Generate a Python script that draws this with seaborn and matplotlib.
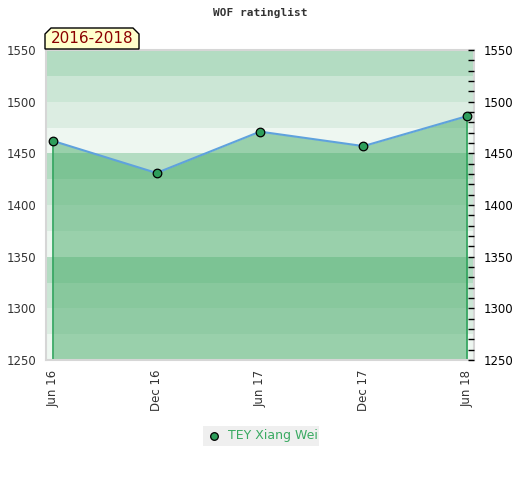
import numpy as np
import pandas as pd
import seaborn as sns
import matplotlib.pyplot as plt
from matplotlib.patches import Polygon
from matplotlib.ticker import MultipleLocator

# data
periods = ['Jun 16', 'Dec 16', 'Jun 17', 'Dec 17', 'Jun 18']
ratings = [1462, 1431, 1471, 1457, 1486]
player = 'TEY Xiang Wei'
period_label = '2016-2018'

y_min, y_max = 1250, 1550
band_colors = ['#eef7f1', '#dcede2', '#cbe6d5', '#b3dcc2']

df = pd.DataFrame({'period': periods, 'rating': ratings})
df['pos'] = np.arange(len(df))

sns.set_style('white')
plt.rcParams['font.family'] = ['DejaVu Sans']

fig = plt.figure(figsize=(5.2, 4.8), dpi=100)
ax = fig.add_axes([46 / 520, 1 - 360 / 480, 428 / 520, 310 / 480])

# striped background
for i, lo in enumerate(range(y_min, y_max, 25)):
    ax.axhspan(lo, lo + 25, color=band_colors[i % 4], lw=0, zorder=0)

ax.fill_between(df['pos'], df['rating'], y_min, color='#46ab67', alpha=0.5, lw=0, zorder=1)
ax.vlines([df['pos'].iloc[0], df['pos'].iloc[-1]], y_min, [df['rating'].iloc[0], df['rating'].iloc[-1]],
          color='#2fa35c', lw=1.2, zorder=2)
sns.lineplot(ax=ax, data=df, x='pos', y='rating', color='#5fa2dd', lw=1.5, zorder=3)
sns.scatterplot(ax=ax, data=df, x='pos', y='rating', color='#2e9e5b', edgecolor='black',
                linewidth=0.9, s=38, zorder=4)

ax.set_xlim(-0.068, len(df) - 1 + 0.068)
ax.set_ylim(y_min, y_max)
ax.set_xticks(df['pos'])
ax.set_xticklabels(df['period'], rotation=90, fontsize=8.5, color='#333333')
ax.set_yticks(range(y_min, y_max + 1, 50))
ax.tick_params(axis='y', length=0, labelsize=8.5, labelcolor='#333333', pad=7)
ax.tick_params(axis='x', length=0, pad=7)
ax.set_xlabel('')
ax.set_ylabel('')
for side, sp in ax.spines.items():
    sp.set_color('#d6d6d6')
    sp.set_linewidth(1.5)

ax2 = ax.twinx()
ax2.set_ylim(y_min, y_max)
ax2.set_yticks(range(y_min, y_max + 1, 50))
ax2.yaxis.set_minor_locator(MultipleLocator(10))
ax2.tick_params(axis='y', which='both', direction='in', length=4, width=1, color='black',
                labelsize=8.5, labelcolor='black', pad=7)
for sp in ax2.spines.values():
    sp.set_visible(False)

fig.text(0.5, 1 - 13 / 480, 'WOF ratinglist', ha='center', va='center', fontsize=8,
         family='DejaVu Sans Mono', weight='bold', color='#333333')

# period badge with cut corners
x0, x1, y0, y1, c = 45, 139, 431, 452, 6
pts = [(x0, y0), (x0, y1 - c), (x0 + c, y1), (x1 - c, y1), (x1, y1 - c), (x1, y0)]
fig.patches.append(Polygon([(px / 520, py / 480) for px, py in pts], closed=True,
                           transform=fig.transFigure, facecolor='#ffffcc', edgecolor='black', lw=1))
fig.text((x0 + x1) / 2 / 520, (y0 + y1) / 2 / 480, period_label, ha='center', va='center',
         fontsize=11, color='#8b0000')

# legend box
fig.patches.append(plt.Rectangle((203 / 520, 1 - 446 / 480), 116 / 520, 20 / 480,
                                 transform=fig.transFigure, facecolor='#efefef', lw=0))
fig.add_artist(plt.Line2D([214 / 520], [1 - 436 / 480], marker='o', ms=5.5, color='#2e9e5b',
                          markeredgecolor='black', mew=0.9, transform=fig.transFigure))
fig.text(228 / 520, 1 - 436 / 480, player, ha='left', va='center', fontsize=9, color='#3aaa62')

fig.savefig('out.png', dpi=100)
